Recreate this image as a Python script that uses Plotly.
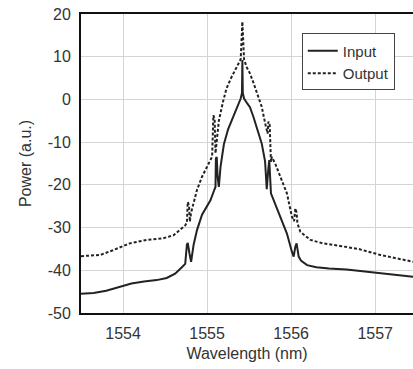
import plotly.graph_objects as go

# Input spectrum (solid)
input_wl = [1553.50, 1553.65, 1553.80, 1553.95, 1554.10, 1554.25, 1554.40, 1554.52, 1554.62, 1554.70,
            1554.74, 1554.76, 1554.77, 1554.79, 1554.81, 1554.84, 1554.88, 1554.94, 1555.00, 1555.04,
            1555.08, 1555.10, 1555.105, 1555.115, 1555.125, 1555.14, 1555.16, 1555.20, 1555.25, 1555.31,
            1555.36, 1555.40, 1555.415, 1555.42, 1555.425, 1555.44, 1555.48, 1555.51, 1555.55, 1555.59,
            1555.65, 1555.69, 1555.71, 1555.73, 1555.74, 1555.76, 1555.80, 1555.85, 1555.89, 1555.95,
            1556.01, 1556.03, 1556.05, 1556.065, 1556.09, 1556.12, 1556.19, 1556.30, 1556.45, 1556.66,
            1556.85, 1557.06, 1557.25, 1557.50]
input_pw = [-45.5, -45.3, -44.8, -43.9, -43.1, -42.6, -42.3, -41.8, -40.8, -39.3,
            -38.5, -34.0, -33.6, -36.0, -38.0, -34.0, -30.6, -27.0, -25.0, -23.6,
            -21.5, -20.5, -13.8, -13.5, -18.0, -20.5, -15.8, -10.5, -7.0, -4.0,
            -1.8, 0.2, 1.5, 9.2, 1.5, 0.2, -1.0, -1.8, -4.0, -6.4,
            -10.3, -14.5, -21.0, -16.0, -14.2, -22.0, -24.0, -26.5, -28.2, -31.4,
            -35.7, -36.8, -34.5, -33.7, -36.8, -37.8, -38.8, -39.3, -39.6, -39.8,
            -40.2, -40.7, -41.1, -41.6]

# Output spectrum (dotted)
output_wl = [1553.50, 1553.73, 1553.88, 1554.08, 1554.28, 1554.48, 1554.60, 1554.68, 1554.74, 1554.76,
             1554.77, 1554.785, 1554.795, 1554.81, 1554.84, 1554.88, 1554.94, 1555.00, 1555.06, 1555.075,
             1555.09, 1555.10, 1555.12, 1555.14, 1555.19, 1555.23, 1555.28, 1555.35, 1555.40, 1555.42,
             1555.44, 1555.47, 1555.51, 1555.55, 1555.59, 1555.65, 1555.69, 1555.72, 1555.73, 1555.745,
             1555.76, 1555.77, 1555.81, 1555.87, 1555.95, 1556.01, 1556.035, 1556.05, 1556.065, 1556.075,
             1556.11, 1556.23, 1556.38, 1556.58, 1556.80, 1557.06, 1557.25, 1557.50]
output_pw = [-36.7, -36.4, -35.3, -33.7, -32.9, -32.5, -31.8, -30.6, -29.5, -28.8,
             -24.0, -24.8, -28.6, -26.5, -24.3, -21.2, -18.1, -15.8, -13.4, -3.7,
             -4.5, -12.6, -8.0, -5.0, -0.5, 2.5, 4.8, 7.7, 9.4, 18.2,
             9.4, 7.6, 6.1, 4.0, 1.8, -1.7, -5.5, -8.0, -5.2, -6.0,
             -14.6, -13.5, -15.0, -18.1, -22.0, -27.5, -28.5, -25.5, -26.5, -29.0,
             -31.0, -32.9, -33.7, -34.3, -35.0, -36.4, -37.2, -38.2]

x_ticks = [1554, 1555, 1556, 1557]
y_ticks = [20, 10, 0, -10, -20, -30, -40, -50]

FONT = "Liberation Sans, Arial, sans-serif"
INK = "#222222"

fig = go.Figure()
fig.add_trace(go.Scatter(x=input_wl, y=input_pw, mode="lines", name="Input",
                         line=dict(color=INK, width=2)))
fig.add_trace(go.Scatter(x=output_wl, y=output_pw, mode="lines", name="Output",
                         line=dict(color=INK, width=2, dash="3px,2px")))

fig.update_layout(
    width=413, height=369,
    margin=dict(l=81, r=0, t=14, b=56),
    paper_bgcolor="white", plot_bgcolor="white",
    font=dict(family=FONT, size=16, color="#333333"),
    showlegend=True,
    legend=dict(x=0.665, y=0.935, xanchor="left", yanchor="top",
                bgcolor="white", bordercolor="#444444", borderwidth=1,
                font=dict(size=15, color="#333333"), tracegroupgap=0),
    xaxis=dict(range=[1553.5, 1557.45], tickvals=x_ticks, ticktext=[str(v) for v in x_ticks],
               showgrid=True, gridcolor="#d4d4d4", gridwidth=1, zeroline=False,
               showline=True, linecolor="#111111", linewidth=2, mirror=True,
               ticks="", ticklabelstandoff=5, tickfont=dict(size=16),
               title=dict(text="Wavelength (nm)", font=dict(size=16, color="#333333"), standoff=7)),
    yaxis=dict(range=[-50, 20], tickvals=y_ticks, ticktext=[str(v) for v in y_ticks],
               showgrid=True, gridcolor="#d4d4d4", gridwidth=1, zeroline=False,
               showline=True, linecolor="#111111", linewidth=2,
               ticks="", ticklabelstandoff=5, tickfont=dict(size=16),
               title=dict(text="Power (a.u.)", font=dict(size=16, color="#333333"), standoff=12)),
)

fig.write_html("out.html")
